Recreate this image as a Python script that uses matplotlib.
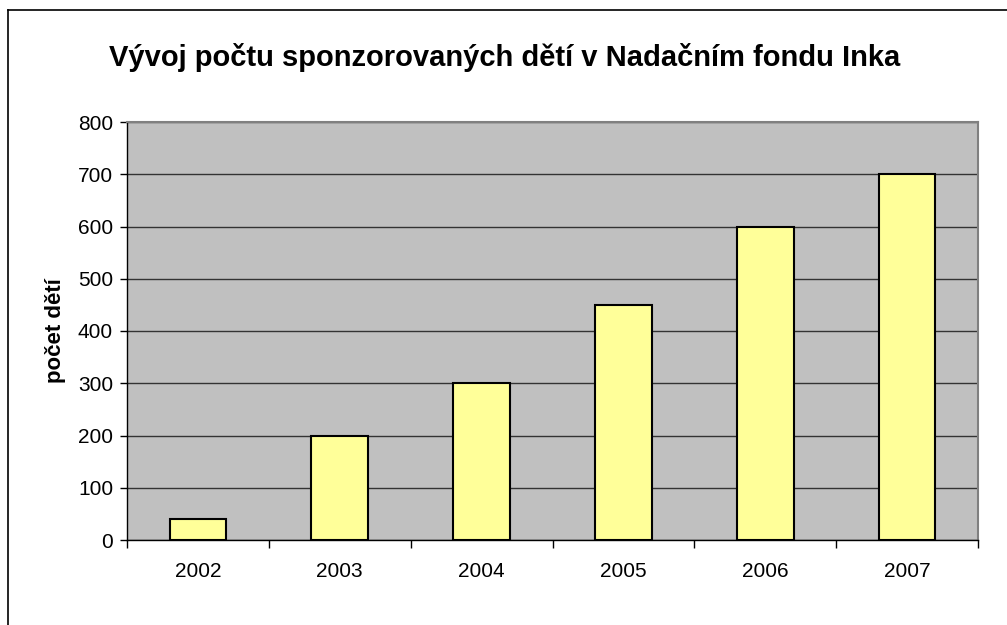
import matplotlib.pyplot as plt
from matplotlib.lines import Line2D

years = ['2002', '2003', '2004', '2005', '2006', '2007']
children = [40, 200, 300, 450, 600, 700]
y_ticks = [0, 100, 200, 300, 400, 500, 600, 700, 800]

plt.rcParams['font.family'] = ['Liberation Sans', 'DejaVu Sans']

W, H = 1007, 625
fig = plt.figure(figsize=(W / 100, H / 100), dpi=100)
fig.patch.set_facecolor('white')

# plot area in pixels: left 127, right 978, top 122, bottom 540
ax = fig.add_axes([127 / W, 1 - 540 / H, (978 - 127) / W, (540 - 122) / H])
ax.set_facecolor('#C0C0C0')

x = range(len(years))
ax.bar(x, children, width=0.4, color='#FFFF99', edgecolor='black', linewidth=1.5, zorder=3)

ax.set_xlim(-0.5, len(years) - 0.5)
ax.set_ylim(0, 800)
ax.set_yticks(y_ticks)
ax.set_yticklabels([str(v) for v in y_ticks], fontsize=15)
ax.set_xticks(x)
ax.set_xticklabels(years, fontsize=15)
ax.tick_params(axis='x', length=0, pad=16)
ax.tick_params(axis='y', length=5, width=1, pad=5)

# category boundary ticks
ax.set_xticks([i - 0.5 for i in range(len(years) + 1)], minor=True)
ax.tick_params(axis='x', which='minor', length=6, width=1)

ax.yaxis.grid(True, color='#333333', linewidth=1, zorder=0)
ax.set_axisbelow(True)

for side in ['top', 'right']:
    ax.spines[side].set_color('#808080')
    ax.spines[side].set_linewidth(1.5)
for side in ['left', 'bottom']:
    ax.spines[side].set_color('black')
    ax.spines[side].set_linewidth(1)

# y axis title
fig.text(55 / W, 1 - 331 / H, 'počet dětí', rotation=90, ha='center', va='center',
         fontsize=16, fontweight='bold')

fig.text(0.5 * (107 + 902) / W, 1 - 58 / H,
         'Vývoj počtu sponzorovaných dětí v Nadačním fondu Inka',
         ha='center', va='center', fontsize=21, fontweight='bold')

# outer chart border (cropped at right and bottom)
fig.add_artist(Line2D([8 / W, 8 / W], [0, 1 - 10 / H], color='black', linewidth=1.2,
                      transform=fig.transFigure))
fig.add_artist(Line2D([8 / W, 1], [1 - 10 / H, 1 - 10 / H], color='black', linewidth=1.2,
                      transform=fig.transFigure))

fig.savefig('out.png', dpi=100)
